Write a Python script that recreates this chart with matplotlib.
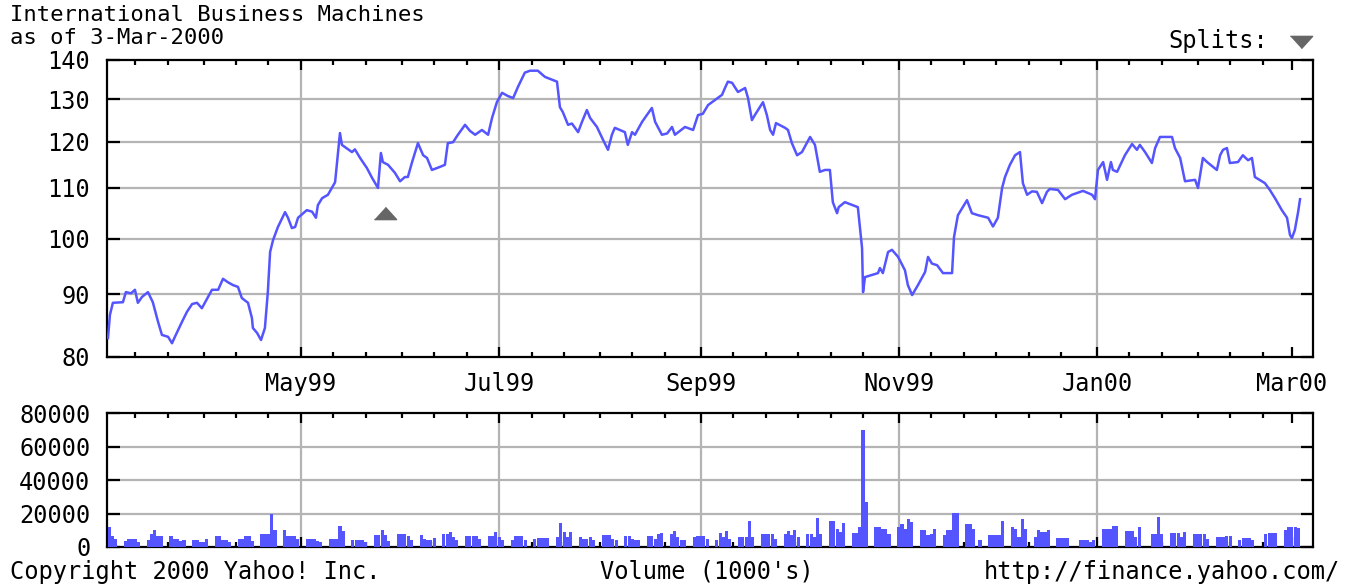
import matplotlib
matplotlib.use('Agg')
import matplotlib.pyplot as plt
import matplotlib.dates as mdates
from matplotlib.ticker import FixedLocator, NullLocator, FixedFormatter
import pandas as pd

plt.rcParams['font.family'] = ['DejaVu Sans Mono', 'DejaVu Sans']

start = pd.Timestamp('1999-03-01')

# price: days after 1-Mar-1999, close
price_days = [1.6, 2.2, 3.1, 6.2, 7.1, 8.7, 9.9, 10.8, 12.1, 13.9, 15.4, 17.0, 18.2, 20.1, 21.3, 22.2,
              24.4, 25.9, 27.5, 29.0, 30.5, 31.5, 33.6, 35.5, 37.0, 38.5, 40.1, 41.6, 42.8, 44.7, 45.9,
              46.2, 47.5, 48.7, 49.9, 50.8, 51.5, 52.4, 53.9, 56.1, 57.0, 58.2, 59.2, 60.1, 62.8, 64.4,
              65.6, 66.2, 67.5, 69.3, 70.5, 71.5, 72.4, 73.0, 73.6, 76.7, 77.6, 79.2, 81.3, 82.9, 84.7,
              85.6, 86.2, 87.8, 89.9, 91.5, 93.0, 93.9, 95.2, 97.0, 98.6, 99.8, 101.3, 103.2, 105.3,
              106.2, 107.8, 109.3, 111.5, 113.0, 114.6, 116.7, 118.6, 119.8, 121.3, 122.9, 124.7, 126.3,
              127.8, 129.9, 131.5, 133.9, 136.1, 138.3, 139.8, 140.7, 141.6, 143.2, 144.4, 146.3, 147.5,
              149.0, 150.0, 152.1, 154.0, 155.5, 156.7, 157.6, 160.7, 161.6, 162.9, 163.8, 166.0, 169.0,
              170.0, 172.1, 173.7, 175.2, 176.1, 179.2, 181.7, 183.2, 184.7, 186.3, 188.4, 190.6, 191.5,
              192.4, 193.7, 195.5, 197.7, 198.6, 199.8, 200.7, 203.2, 204.4, 205.4, 206.3, 207.2, 210.0,
              210.9, 212.1, 213.7, 215.2, 217.7, 219.2, 220.7, 222.3, 223.8, 224.7, 226.0, 226.5, 228.4,
              232.4, 233.7, 234.0, 234.6, 238.6, 239.2, 240.1, 241.7, 242.9, 244.8, 246.9, 247.8, 249.1,
              250.9, 253.1, 254.0, 255.2, 256.8, 258.6, 261.4, 262.0, 263.2, 266.0, 267.5, 269.4, 272.5,
              274.0, 275.5, 276.8, 277.7, 279.2, 280.8, 282.3, 283.2, 284.5, 286.0, 287.5, 289.1, 290.6,
              291.5, 294.0, 296.2, 298.3, 301.7, 304.5, 305.4, 306.3, 307.9, 309.1, 310.3, 310.9, 312.2,
              314.6, 316.8, 318.3, 319.2, 320.8, 322.9, 323.9, 325.4, 329.1, 330.0, 331.6, 333.1, 336.2,
              337.1, 338.6, 339.9, 342.9, 343.9, 344.8, 346.0, 346.9, 349.4, 350.9, 352.5, 353.7, 354.6,
              357.7, 359.2, 360.8, 362.9, 364.5, 365.4, 366.0, 366.9, 367.9, 368.5]
price = [82.9, 86.6, 88.6, 88.7, 90.4, 90.2, 90.8, 88.6, 89.6, 90.4, 88.7, 85.5, 83.4, 83.1, 82.1, 83.1,
         85.5, 87.1, 88.4, 88.6, 87.7, 88.7, 90.8, 90.8, 92.7, 92.1, 91.6, 91.3, 89.4, 88.6, 86.1,
         84.5, 83.7, 82.6, 84.5, 90.4, 97.5, 99.7, 102.2, 105.1, 104.0, 102.0, 102.2, 104.0, 105.5, 105.2,
         104.0, 106.5, 107.9, 108.6, 110.0, 111.2, 117.7, 122.0, 119.3, 117.7, 118.3, 116.4, 114.2, 112.1, 110.0,
         117.5, 115.5, 114.9, 113.2, 111.4, 112.3, 112.3, 115.5, 119.7, 117.0, 116.4, 113.8, 114.3, 114.9,
         119.7, 119.9, 121.6, 123.9, 122.5, 121.6, 122.7, 121.6, 125.5, 129.3, 131.6, 130.8, 130.3,
         133.1, 136.7, 137.2, 137.2, 135.6, 134.9, 134.4, 128.1, 126.9, 123.9, 124.2, 122.2, 124.6,
         127.4, 125.5, 123.4, 120.4, 118.2, 121.6, 123.2, 122.2, 119.3, 122.2, 121.6, 124.6, 127.9,
         124.6, 121.6, 121.9, 123.4, 121.6, 123.4, 122.7, 126.2, 126.5, 128.6, 129.8, 131.1, 132.8,
         134.4, 134.1, 131.8, 132.8, 130.3, 125.0, 126.2, 129.3, 126.2, 122.7, 121.6, 124.3, 123.2,
         122.7, 119.7, 117.0, 117.7, 121.1, 119.3, 113.4, 113.8, 113.8, 107.1, 104.9, 106.1, 107.1,
         106.1, 98.2, 90.4, 93.0, 93.7, 94.6, 93.7, 97.5, 97.9, 96.6, 94.2, 91.6, 89.9,
         91.6, 93.9, 96.6, 95.4, 95.1, 93.7, 93.7, 100.3, 104.5, 107.5, 104.9, 104.5, 104.0,
         102.3, 104.0, 110.0, 112.3, 114.9, 117.0, 117.7, 111.0, 108.6, 109.3, 109.2, 106.9, 109.2,
         109.8, 109.6, 107.7, 108.6, 109.4, 108.6, 107.7, 113.8, 115.5, 111.7, 115.5, 113.8, 113.4,
         117.0, 119.5, 118.2, 119.3, 117.7, 115.3, 118.6, 121.1, 121.1, 118.6, 116.4, 111.4, 111.7,
         110.0, 116.4, 115.5, 113.8, 117.0, 118.2, 118.6, 115.3, 115.5, 117.0, 115.9, 116.4, 112.3,
         111.0, 109.6, 107.9, 105.5, 104.0, 100.7, 100.1, 101.6, 105.1, 107.7]

# volume (1000's), one value per weekday 3-Mar-1999 .. 3-Mar-2000
vol_dates = pd.bdate_range('1999-03-03', '2000-03-03')
volume = [
    # Mar 99
    11800, 6500, 4900, 3500, 4900, 5000, 5000, 3000, 4000, 8000, 10200, 6300, 6300,
    6300, 4900, 4900, 3500, 4000, 4000, 4000, 3000,
    # Apr 99
    3000, 4900, 6300, 6300, 4000, 4000, 3000, 4900, 4900, 6300, 6300, 3500,
    7800, 7800, 7800, 20000, 10200, 10200, 6300, 6300, 6300, 5000,
    # May 99
    4900, 4900, 4900, 3500, 3000, 4900, 4900, 4900, 12700, 9400, 4000, 4000, 4000, 4000, 3000,
    6900, 6900, 10200, 7000, 3500, 7800,
    # Jun 99
    7800, 7800, 6300, 4000, 7400, 4900, 4000, 4000, 5500, 7800, 7800, 8800, 6000, 4000,
    6300, 6300, 6300, 6300, 4500, 6300, 6300, 8800,
    # Jul 99
    6000, 4000, 4000, 6300, 6300, 6300, 4000, 4900, 5500, 5500, 5500, 5500,
    6000, 14100, 8800, 6000, 8800, 5900, 5000, 4500, 5900, 4000,
    # Aug 99
    6900, 6900, 6900, 5000, 4000, 6300, 6300, 4500, 4000, 4000, 6300, 6300, 5000, 7800, 8500,
    8000, 9600, 6000, 4400, 3900, 6000, 6300,
    # Sep 99
    6400, 6400, 5000, 4000, 8400, 6000, 9600, 5000, 6000, 6000, 6000, 15600, 6000,
    8000, 8000, 8000, 8000, 5000, 8000, 9600, 7000, 10400,
    # Oct 99
    6000, 8000, 8000, 6000, 17600, 8000, 15600, 15600, 11000, 9000, 14400,
    8400, 8400, 12000, 70000, 27000, 12000, 12000, 11000, 11000, 8000,
    # Nov 99
    12000, 14000, 11000, 17000, 15000, 10400, 10400, 7000, 8000, 11000,
    7000, 10400, 10400, 20400, 20400, 13600, 13600, 11000, 0, 4000, 7000, 7000,
    # Dec 99
    7000, 7000, 15600, 12000, 11000, 6000, 17000, 11000, 6000, 10000, 9000, 9000, 10000,
    5600, 5600, 5600, 5600, 0, 4000, 4000, 4000, 3000, 4000,
    # Jan 00
    11000, 11000, 11000, 12400, 12400, 9600, 9600, 9600, 6000, 12000,
    0, 8000, 8000, 18000, 8000, 8400, 8400, 8400, 6000, 9000, 8000,
    # Feb 00
    8000, 8000, 8000, 5000, 6000, 6000, 6000, 6400, 6400, 4000, 5600, 5600, 5600, 4000,
    0, 8000, 8400, 8400, 8400, 10400, 12000,
    # Mar 00
    12000, 12000, 11600,
]

month_ticks = ['1999-05-01', '1999-07-01', '1999-09-01', '1999-11-01', '2000-01-01', '2000-03-01']
month_labels = ['May99', 'Jul99', 'Sep99', 'Nov99', 'Jan00', 'Mar00']
price_ticks = [80, 90, 100, 110, 120, 130, 140]
vol_ticks = [0, 20000, 40000, 60000, 80000]
split_date = '1999-05-27'
split_mark = 105.0

blue = '#5555ff'
gridc = '#b4b4b4'
tri_up = [(-1, -0.55), (1, -0.55), (0, 0.55)]
tri_down = [(-1, 0.55), (1, 0.55), (0, -0.55)]

dates = start + pd.to_timedelta(price_days, unit='D')
mticks = pd.to_datetime(month_ticks)
xlim = (start + pd.Timedelta(days=1.3), start + pd.Timedelta(days=372.5))

fig = plt.figure(figsize=(13.46, 5.84), dpi=100)
ax = fig.add_axes([0.0795, 0.3887, 0.8960, 0.5086])
axv = fig.add_axes([0.0795, 0.0634, 0.8960, 0.2286])


def style(a):
    for s in a.spines.values():
        s.set_linewidth(1.6)
        s.set_color('black')
    a.set_xlim(xlim)
    a.xaxis.set_major_locator(FixedLocator(mdates.date2num(mticks)))
    a.xaxis.set_minor_locator(mdates.DayLocator(bymonthday=[1, 11, 21]))
    a.tick_params(axis='x', which='major', direction='in', top=True, bottom=True,
                  length=7, width=1.6, labelsize=17, pad=11)
    a.tick_params(axis='x', which='minor', direction='in', top=True, bottom=True,
                  length=3.5, width=1.6)
    a.tick_params(axis='y', which='major', direction='in', left=True, right=True,
                  length=9, width=1.6, labelsize=17, pad=12)
    a.yaxis.set_minor_locator(NullLocator())
    for d in mticks[:-1]:
        a.axvline(d, color=gridc, lw=1.6, zorder=0)


# price panel
ax.plot(dates, price, color=blue, lw=1.8, zorder=3)
ax.plot(pd.Timestamp(split_date), split_mark, marker=tri_up, ms=16, color='#666666', zorder=4)
ax.set_yscale('log')
ax.set_ylim(80, 140)
ax.yaxis.set_major_locator(FixedLocator(price_ticks))
ax.yaxis.set_major_formatter(FixedFormatter([str(v) for v in price_ticks]))
for v in price_ticks[1:-1]:
    ax.axhline(v, color=gridc, lw=1.6, zorder=0)
style(ax)
ax.xaxis.set_major_formatter(FixedFormatter(month_labels))

# volume panel
axv.bar(vol_dates, volume, width=0.95, color=blue, linewidth=0, zorder=3)
axv.set_ylim(0, 80000)
axv.yaxis.set_major_locator(FixedLocator(vol_ticks))
axv.yaxis.set_major_formatter(FixedFormatter([str(v) for v in vol_ticks]))
for v in vol_ticks[1:-1]:
    axv.axhline(v, color=gridc, lw=1.6, zorder=0)
style(axv)
axv.tick_params(axis='x', labelbottom=False)

# texts
fig.text(10 / 1346, 1 - 21 / 584, 'International Business Machines', fontsize=16, va='baseline')
fig.text(10 / 1346, 1 - 44 / 584, 'as of 3-Mar-2000', fontsize=16, va='baseline')
fig.text(1268 / 1346, 1 - 48 / 584, 'Splits:', fontsize=17, va='baseline', ha='right')
fig.lines.append(plt.Line2D([1301 / 1346], [1 - 42 / 584], transform=fig.transFigure,
                            marker=tri_down, ms=16, color='#666666'))
fig.text(10 / 1346, 1 - 579 / 584, 'Copyright 2000 Yahoo! Inc.', fontsize=17, va='baseline')
fig.text(707 / 1346, 1 - 579 / 584, "Volume (1000's)", fontsize=17, va='baseline', ha='center')
fig.text(1340 / 1346, 1 - 579 / 584, 'http://finance.yahoo.com/', fontsize=17, va='baseline', ha='right')

fig.savefig('out.png', dpi=100)
